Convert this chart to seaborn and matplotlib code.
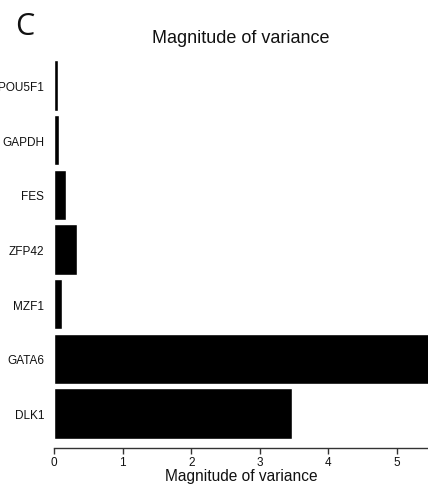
import matplotlib
matplotlib.use("Agg")
import matplotlib.pyplot as plt
import seaborn as sns
import pandas as pd

genes = ["POU5F1", "GAPDH", "FES", "ZFP42", "MZF1", "GATA6", "DLK1"]
variance = [0.06, 0.07, 0.17, 0.33, 0.12, 5.6, 3.47]

df = pd.DataFrame({"gene": genes, "variance": variance})

sns.set_theme(style="white")
plt.rcParams['font.family'] = ['Liberation Sans', 'DejaVu Sans']

fig = plt.figure(figsize=(4.28, 4.89), dpi=100)
ax = fig.add_axes([0.126, 0.082, 0.874, 0.797])
sns.barplot(data=df, x="variance", y="gene", color="black", orient="h",
            width=0.92, ax=ax, saturation=1)
ax.set_xlim(0, 5.45)
ax.set_ylim(6.63, -0.5)
ax.set_xticks([0, 1, 2, 3, 4, 5])
ax.set_xlabel("Magnitude of variance", fontsize=11.2, labelpad=0, color="#111111")
ax.set_ylabel("")
ax.tick_params(axis="x", labelsize=8.5, length=4, width=1, color="#333333", pad=2,
               bottom=True, labelcolor="#111111")
ax.tick_params(axis="y", labelsize=8.5, length=0, pad=7, labelcolor="#111111")
for s in ["top", "right", "left"]:
    ax.spines[s].set_visible(False)
ax.spines["bottom"].set_color("#333333")
ax.spines["bottom"].set_linewidth(1)
ax.set_title("Magnitude of variance", fontsize=13, pad=12, color="#111111")
fig.text(0.035, 0.945, "C", fontsize=22, family=["Open Sans", "DejaVu Sans"],
         va="center", color="#111111")
fig.savefig("out.png", dpi=100)
